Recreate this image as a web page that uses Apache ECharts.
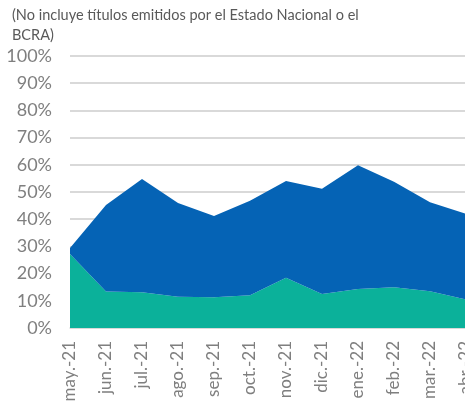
<!DOCTYPE html>
<html>
<head>
<meta charset="utf-8">
<script src="https://cdn.jsdelivr.net/npm/echarts@6/dist/echarts.min.js"></script>
<style>
  html, body { margin: 0; padding: 0; background: #fff; }
  #chart { width: 465px; height: 405px; }
</style>
</head>
<body>
<div id="chart"></div>
<script>
// meses
var months = ['may.-21', 'jun.-21', 'jul.-21', 'ago.-21', 'sep.-21', 'oct.-21',
  'nov.-21', 'dic.-21', 'ene.-22', 'feb.-22', 'mar.-22', 'abr.-22'];
// capa inferior (verde)
var lower = [27.2, 13.4, 13.1, 11.5, 11.3, 12.0, 18.5, 12.5, 14.3, 15.0, 13.5, 10.5];
// capa superior (azul), apilada sobre la verde
var upper = [2.2, 31.8, 41.7, 34.5, 29.9, 34.8, 35.5, 38.7, 45.5, 38.8, 32.7, 31.5];

var myChart = echarts.init(document.getElementById('chart'));
myChart.setOption({
  animation: false,
  title: {
    text: '(No incluye títulos emitidos por el Estado Nacional o el\nBCRA)',
    left: 7,
    top: 0,
    textStyle: {
      fontFamily: 'Lato',
      fontSize: 14.5,
      fontWeight: 'normal',
      color: '#595959',
      lineHeight: 20
    }
  },
  grid: { left: 70, width: 396, top: 56, bottom: 77, outerBoundsMode: 'none' },
  xAxis: {
    type: 'category',
    boundaryGap: false,
    data: months,
    axisLine: { lineStyle: { color: '#d9d9d9', width: 1.5 } },
    axisTick: { show: false },
    axisLabel: {
      rotate: 90,
      interval: 0,
      margin: 13,
      fontFamily: 'Lato',
      fontSize: 17,
      color: '#7f7f7f'
    }
  },
  yAxis: {
    type: 'value',
    min: 0,
    max: 100,
    interval: 10,
    axisLabel: {
      formatter: '{value}%',
      margin: 18,
      fontFamily: 'Lato',
      fontSize: 18,
      color: '#7f7f7f'
    },
    splitLine: { lineStyle: { color: '#d9d9d9', width: 2 } }
  },
  series: [
    {
      name: 'inferior',
      type: 'line',
      stack: 'total',
      data: lower,
      symbol: 'none',
      lineStyle: { width: 0 },
      areaStyle: { color: '#0bb19a', opacity: 1 }
    },
    {
      name: 'superior',
      type: 'line',
      stack: 'total',
      data: upper,
      symbol: 'none',
      lineStyle: { width: 0 },
      areaStyle: { color: '#0563b5', opacity: 1 }
    }
  ]
});
</script>
</body>
</html>
